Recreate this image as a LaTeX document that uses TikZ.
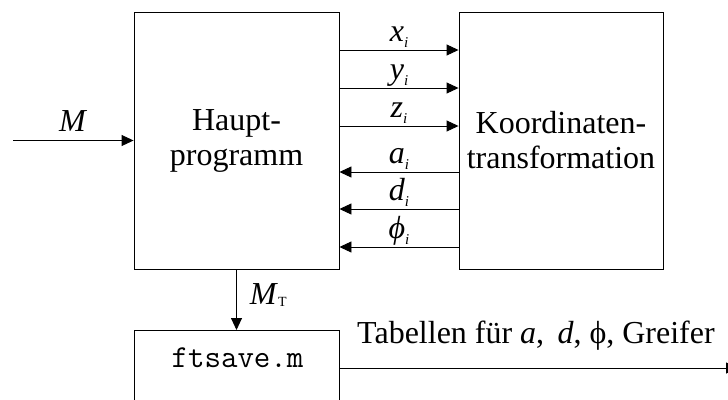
\documentclass[tikz,border=0pt]{standalone}
\usepackage{fontspec}
\setmainfont{Liberation Serif}
\usetikzlibrary{arrows.meta,calc}
\newcommand\bigtxt{\fontsize{32}{35}\selectfont}
\newcommand\subi[1]{\raisebox{-6pt}{\fontsize{15}{15}\selectfont #1}}
\newcommand\subT[1]{\raisebox{-1.5pt}{\fontsize{14}{14}\selectfont #1}}
\tikzset{
  blk/.style={draw, line width=0.9pt, inner sep=0pt, align=center, font=\bigtxt},
  arr/.style={-{Triangle[length=12pt,width=11pt]}, line width=0.9pt},
  lab/.style={anchor=base, yshift=9pt, inner sep=0pt, font=\bigtxt},
}
\begin{document}
\begin{tikzpicture}[x=1pt,y=1pt]
\useasboundingbox (0,0) rectangle (728,-399);
\node[blk, minimum width=205pt, minimum height=257pt] (haupt) at (236.5,-140.5) {Haupt-\\programm};
\node[blk, minimum width=204pt, minimum height=257pt] (kt) at (561,-140.5) {Koordinaten-\\transformation};
\node[blk, minimum width=205pt, minimum height=100pt, anchor=north] (ft) at (236.5,-330) {};
\node[anchor=base, inner sep=0pt, font=\fontsize{32}{34}\selectfont\ttfamily] (fttext) at (237.5,-367) {ftsave.m};
\coordinate (min) at (13,-140.5);
\draw[arr] (min) -- node[lab]{\textit{M}} (haupt.west);
\draw[arr] ([yshift=90.5pt]haupt.east) -- node[lab]{\textit{x}\subi{\textit{i}}} ([yshift=90.5pt]kt.west);
\draw[arr] ([yshift=52.5pt]haupt.east) -- node[lab]{\textit{y}\subi{\textit{i}}} ([yshift=52.5pt]kt.west);
\draw[arr] ([yshift=14.5pt]haupt.east) -- node[lab]{\textit{z}\subi{\textit{i}}} ([yshift=14.5pt]kt.west);
\draw[arr] ([yshift=-31.5pt]kt.west) -- node[lab]{\textit{a}\subi{\textit{i}}} ([yshift=-31.5pt]haupt.east);
\draw[arr] ([yshift=-68.5pt]kt.west) -- node[lab]{\textit{d}\subi{\textit{i}}} ([yshift=-68.5pt]haupt.east);
\draw[arr] ([yshift=-106.5pt]kt.west) -- node[lab]{\textit{ϕ}\subi{\textit{i}}} ([yshift=-106.5pt]haupt.east);
\draw[arr] (haupt.south) -- node[anchor=base west, inner sep=0pt, font=\bigtxt, pos=0.58, xshift=13pt]{\textit{M}\subT{T}} (ft.north);
\coordinate (outend) at (738,-368);
\draw[arr] ($(ft.north east)+(0,-38)$) -- (outend);
\node[anchor=base, inner sep=0pt, font=\bigtxt] (tab) at (536,-343) {Tabellen für \textit{a}, \,\textit{d}, ϕ, Greifer};
\end{tikzpicture}
\end{document}
